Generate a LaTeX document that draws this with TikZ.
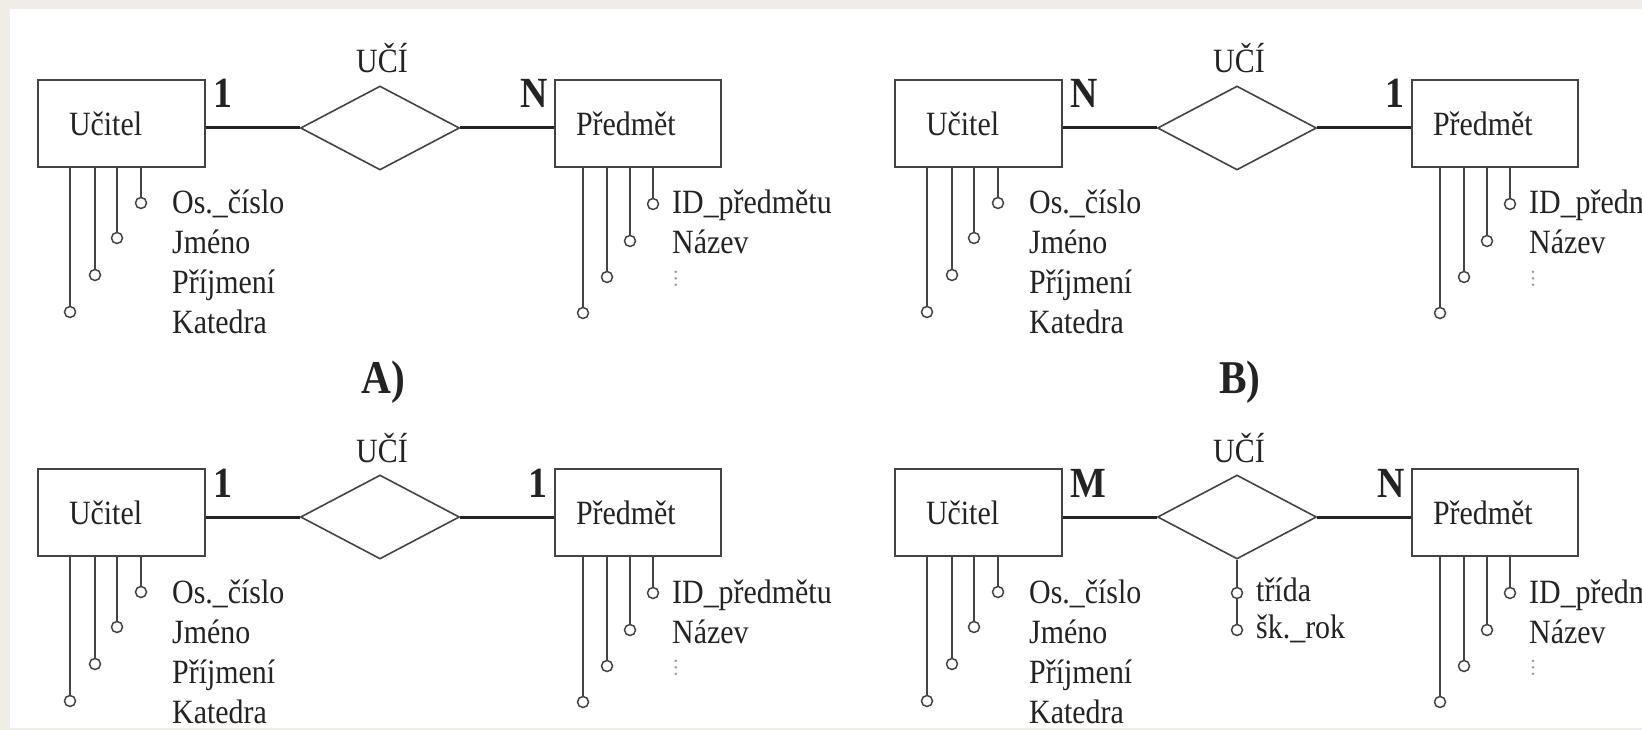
\documentclass[tikz,border=0pt]{standalone}
\usepackage{fontspec}
\setmainfont{Liberation Serif}[FakeStretch=0.88]
\usetikzlibrary{shapes.geometric}
\definecolor{pozadi}{RGB}{239,237,230}
\definecolor{inkoust}{RGB}{35,35,35}
\tikzset{
  entita/.style 2 args={draw=inkoust!85, line width=2pt, minimum height=87pt, inner ysep=0pt,
    inner xsep=#1pt, text width=#2pt, align=left, font=\fontsize{34}{38}\selectfont, text=inkoust},
  vztah/.style={shape=diamond, draw=inkoust!85, line width=1.6pt, minimum width=159pt,
    minimum height=84pt, inner sep=0pt},
  spoj/.style={draw=inkoust, line width=3pt},
  noha/.style={draw=inkoust!85, line width=1.8pt},
  atr/.style={circle, draw=inkoust!85, fill=white, line width=1.5pt, minimum size=11pt, inner sep=0pt},
  popis/.style={font=\fontsize{34}{38}\selectfont, text=inkoust, inner sep=0pt},
  kard/.style={font=\bfseries\fontsize{43}{45}\selectfont, text=inkoust, inner sep=0pt},
  tecky/.style={font=\fontsize{22}{24}\selectfont, text=black!40, inner sep=0pt, rotate=90},
  pismeno/.style={font=\bfseries\fontsize{47}{49}\selectfont, text=inkoust, inner sep=0pt}
}
\begin{document}
\begin{tikzpicture}[x=1pt,y=1pt,yscale=-1,xscale=1]
\useasboundingbox (0,0) rectangle (1642,730);
%Shape: page and panel
\fill[pozadi] (0,0) rectangle (1642,730);
\fill[white] (10,9) rectangle (1642,728);
\clip (0,0) rectangle (1642,730);

%four variants of the same ER diagram
\foreach \pn/\sx/\sy/\kl/\kr in {A/0/0/1/N, B/857/0/N/1, C/0/389/1/1, D/857/389/M/N} {
\begin{scope}[shift={(\sx,\sy)}]
% entities and relationship
\node[entita={31}{105}] (ucitel\pn) at (121.5,123.5) {Učitel};
\node[entita={21}{124}] (predmet\pn) at (638,123.5) {Předmět};
\node[vztah] (uci\pn) at (380,128) {};
\node[popis, anchor=base] (nazevVztahu\pn) at (382,73) {UČÍ};
\draw[spoj] (ucitel\pn.east |- uci\pn.west) -- (uci\pn.west);
\draw[spoj] (uci\pn.east) -- (uci\pn.east -| predmet\pn.west);
% cardinalities
\node[kard, anchor=base west] (kl\pn) at (213,108) {\kl};
\node[kard, anchor=base east] (kr\pn) at (548,108) {\kr};
% attributes of Učitel
\foreach \i/\x/\y in {1/141/203, 2/117/238, 3/95/275, 4/70/312} {
  \node[atr] (ua\i\pn) at (\x,\y) {};
  \draw[noha] (ucitel\pn.south -| ua\i\pn) -- (ua\i\pn);
}
\foreach \i/\t/\y in {1/Os.\_číslo/214, 2/Jméno/254, 3/Příjmení/294, 4/Katedra/334}
  \node[popis, anchor=base west] (ut\i\pn) at (172,\y) {\t};
% attributes of Předmět
\foreach \i/\x/\y in {1/653/204, 2/630/241, 3/607/277, 4/583/313} {
  \node[atr] (pa\i\pn) at (\x,\y) {};
  \draw[noha] (predmet\pn.south -| pa\i\pn) -- (pa\i\pn);
}
\node[popis, anchor=base west] (pt1\pn) at (672,214) {ID\_předmětu};
\node[popis, anchor=base west] (pt2\pn) at (672,254) {Název};
\node[tecky] (tecky\pn) at (676,279) {\ldots};
\end{scope}
}

% attributes of the relationship M:N
\node[atr] (r1D) at (1237,593) {};
\node[atr] (r2D) at (1237,630) {};
\draw[noha] (uciD.south) -- (r1D);
\draw[noha] (r1D) -- (r2D);
\node[popis, anchor=base west] (tridaD) at (1256,601) {třída};
\node[popis, anchor=base west] (rokD) at (1256,638) {šk.\_rok};

% Text Node
\node[pismeno, anchor=base] (variantaA) at (383,393) {A)};
\node[pismeno, anchor=base] (variantaB) at (1240,393) {B)};
\end{tikzpicture}
\end{document}
